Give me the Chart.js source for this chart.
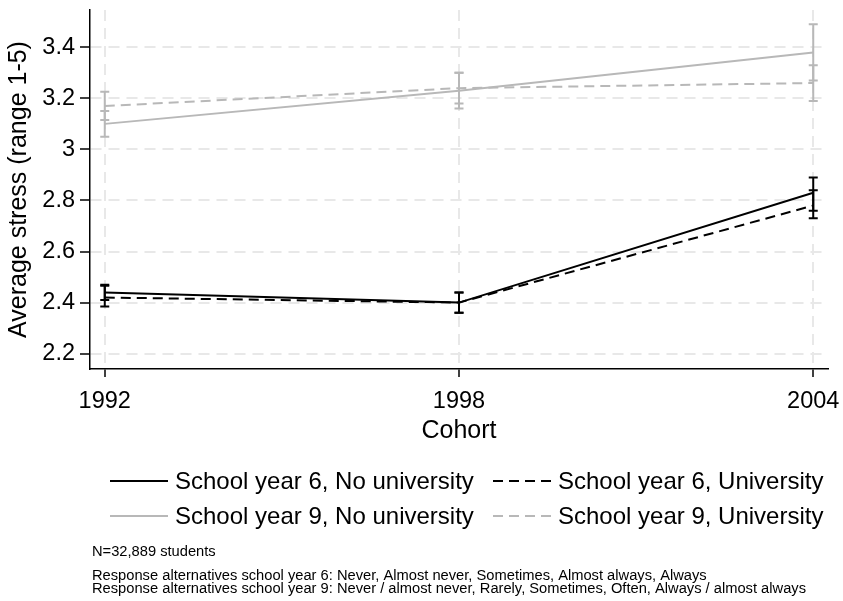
<!DOCTYPE html>
<html>
<head>
<meta charset="utf-8">
<script src="https://cdn.jsdelivr.net/npm/chart.js@4"></script>
<style>
  html, body { margin: 0; padding: 0; background: #fff; }
  #wrap { width: 843px; height: 601px; position: relative; }
</style>
</head>
<body>
<div id="wrap"><canvas id="c" width="843" height="601"></canvas></div>
<script>
// Cohort years on the x axis
const cohorts = [1992, 1998, 2004];
const xTicks = [1992, 1998, 2004];
const yTicks = [2.2, 2.4, 2.6, 2.8, 3.0, 3.2, 3.4];

// Mean stress per group, with 95% confidence limits
const y6NoUni     = [2.44, 2.40, 2.83];
const y6NoUniLow  = [2.41, 2.36, 2.76];
const y6NoUniHigh = [2.47, 2.44, 2.89];

const y6Uni       = [2.42, 2.40, 2.78];
const y6UniLow    = [2.385, 2.36, 2.73];
const y6UniHigh   = [2.466, 2.44, 2.84];

const y9NoUni     = [3.10, 3.23, 3.38];
const y9NoUniLow  = [3.05, 3.16, 3.27];
const y9NoUniHigh = [3.15, 3.30, 3.49];

const y9Uni       = [3.17, 3.24, 3.26];
const y9UniLow    = [3.115, 3.18, 3.19];
const y9UniHigh   = [3.226, 3.30, 3.33];

const seriesLabels = [
  'School year 6, No university',
  'School year 6, University',
  'School year 9, No university',
  'School year 9, University'
];

const notes = [
  'N=32,889 students',
  'Response alternatives school year 6: Never, Almost never, Sometimes, Almost always, Always',
  'Response alternatives school year 9: Never / almost never, Rarely, Sometimes, Often, Always / almost always'
];

const BLACK = '#000000';
const GRAY = '#b8b8b8';
const FONT = '"Liberation Sans", Arial, Helvetica, sans-serif';

function pts(vals) { return vals.map((v, i) => ({ x: cohorts[i], y: v })); }

function mkSet(label, vals, low, high, color, dash) {
  return {
    label: label,
    data: pts(vals),
    ciLow: low,
    ciHigh: high,
    borderColor: color,
    backgroundColor: color,
    borderWidth: 2,
    borderDash: dash,
    pointRadius: 0,
    tension: 0,
    fill: false
  };
}

// Keep the plot box fixed: no extra room reserved for end tick labels
function noLabelPadding(s) {
  s.paddingTop = 0; s.paddingBottom = 0;
  s.paddingLeft = 0; s.paddingRight = 0;
}

// Vertical confidence interval bars with end caps
const errorBars = {
  id: 'errorBars',
  afterDatasetsDraw(chart) {
    const ctx = chart.ctx;
    const xs = chart.scales.x, ys = chart.scales.y;
    chart.data.datasets.forEach(ds => {
      ctx.save();
      ctx.strokeStyle = ds.borderColor;
      ctx.lineWidth = 2;
      ctx.setLineDash([]);
      ds.data.forEach((p, i) => {
        const x = xs.getPixelForValue(p.x);
        const y1 = ys.getPixelForValue(ds.ciLow[i]);
        const y2 = ys.getPixelForValue(ds.ciHigh[i]);
        ctx.beginPath();
        ctx.moveTo(x, y1); ctx.lineTo(x, y2);
        ctx.moveTo(x - 4.5, y1); ctx.lineTo(x + 4.5, y1);
        ctx.moveTo(x - 4.5, y2); ctx.lineTo(x + 4.5, y2);
        ctx.stroke();
      });
      ctx.restore();
    });
  }
};

// Two-column legend and notes below the plot
const bottomText = {
  id: 'bottomText',
  afterDraw(chart) {
    const ctx = chart.ctx;
    const ds = chart.data.datasets;
    const cols = [{ x0: 110, x1: 168, tx: 175 }, { x0: 493, x1: 553, tx: 558 }];
    const rows = [481, 516];
    ctx.save();
    ds.forEach((d, i) => {
      const c = cols[i % 2], y = rows[Math.floor(i / 2)];
      ctx.strokeStyle = d.borderColor;
      ctx.lineWidth = 2;
      ctx.setLineDash(d.borderDash || []);
      ctx.beginPath();
      ctx.moveTo(c.x0, y); ctx.lineTo(c.x1, y);
      ctx.stroke();
      ctx.setLineDash([]);
      ctx.fillStyle = '#000';
      ctx.font = '24px ' + FONT;
      ctx.textBaseline = 'middle';
      ctx.textAlign = 'left';
      ctx.fillText(d.label, c.tx, y + 1);
    });
    ctx.font = '14.7px ' + FONT;
    ctx.fillStyle = '#000';
    ctx.textBaseline = 'middle';
    ctx.fillText(notes[0], 92, 552);
    ctx.fillText(notes[1], 92, 576);
    ctx.fillText(notes[2], 92, 589);
    ctx.restore();
  }
};

new Chart(document.getElementById('c'), {
  type: 'line',
  data: {
    datasets: [
      mkSet(seriesLabels[0], y6NoUni, y6NoUniLow, y6NoUniHigh, BLACK, []),
      mkSet(seriesLabels[1], y6Uni, y6UniLow, y6UniHigh, BLACK, [10, 6]),
      mkSet(seriesLabels[2], y9NoUni, y9NoUniLow, y9NoUniHigh, GRAY, []),
      mkSet(seriesLabels[3], y9Uni, y9UniLow, y9UniHigh, GRAY, [10, 6])
    ]
  },
  options: {
    responsive: false,
    animation: false,
    layout: { padding: { left: 0, right: 15, top: 10, bottom: 155 } },
    plugins: { legend: { display: false }, tooltip: { enabled: false } },
    scales: {
      x: {
        type: 'linear',
        min: 1991.75,
        max: 2004.25,
        afterBuildTicks: s => { s.ticks = xTicks.map(v => ({ value: v })); },
        afterFit: s => { s.height = 77; noLabelPadding(s); },
        ticks: {
          color: '#000',
          font: { family: FONT, size: 23.5 },
          padding: 10,
          maxRotation: 0,
          callback: v => String(v)
        },
        grid: {
          color: '#e8e8e8',
          lineWidth: 2,
          tickColor: '#000',
          tickWidth: 1.5,
          tickLength: 8,
          tickBorderDash: []
        },
        border: { display: true, color: '#000', width: 1.5, dash: [11, 7] },
        title: {
          display: true,
          text: 'Cohort',
          color: '#000',
          font: { family: FONT, size: 25 },
          padding: { top: 2, bottom: 0 }
        }
      },
      y: {
        min: 2.14,
        max: 3.546,
        afterBuildTicks: s => { s.ticks = yTicks.map(v => ({ value: v })); },
        afterFit: s => { s.width = 90; noLabelPadding(s); },
        ticks: {
          color: '#000',
          font: { family: FONT, size: 23.5 },
          padding: 5,
          callback: v => String(Math.round(v * 10) / 10)
        },
        grid: {
          color: '#e8e8e8',
          lineWidth: 2,
          tickColor: '#000',
          tickWidth: 1.5,
          tickLength: 10,
          tickBorderDash: []
        },
        border: { display: true, color: '#000', width: 1.5, dash: [11, 7] },
        title: {
          display: true,
          text: 'Average stress (range 1-5)',
          color: '#000',
          font: { family: FONT, size: 25 },
          padding: { top: 4, bottom: 0 }
        }
      }
    }
  },
  plugins: [errorBars, bottomText]
});
</script>
</body>
</html>
